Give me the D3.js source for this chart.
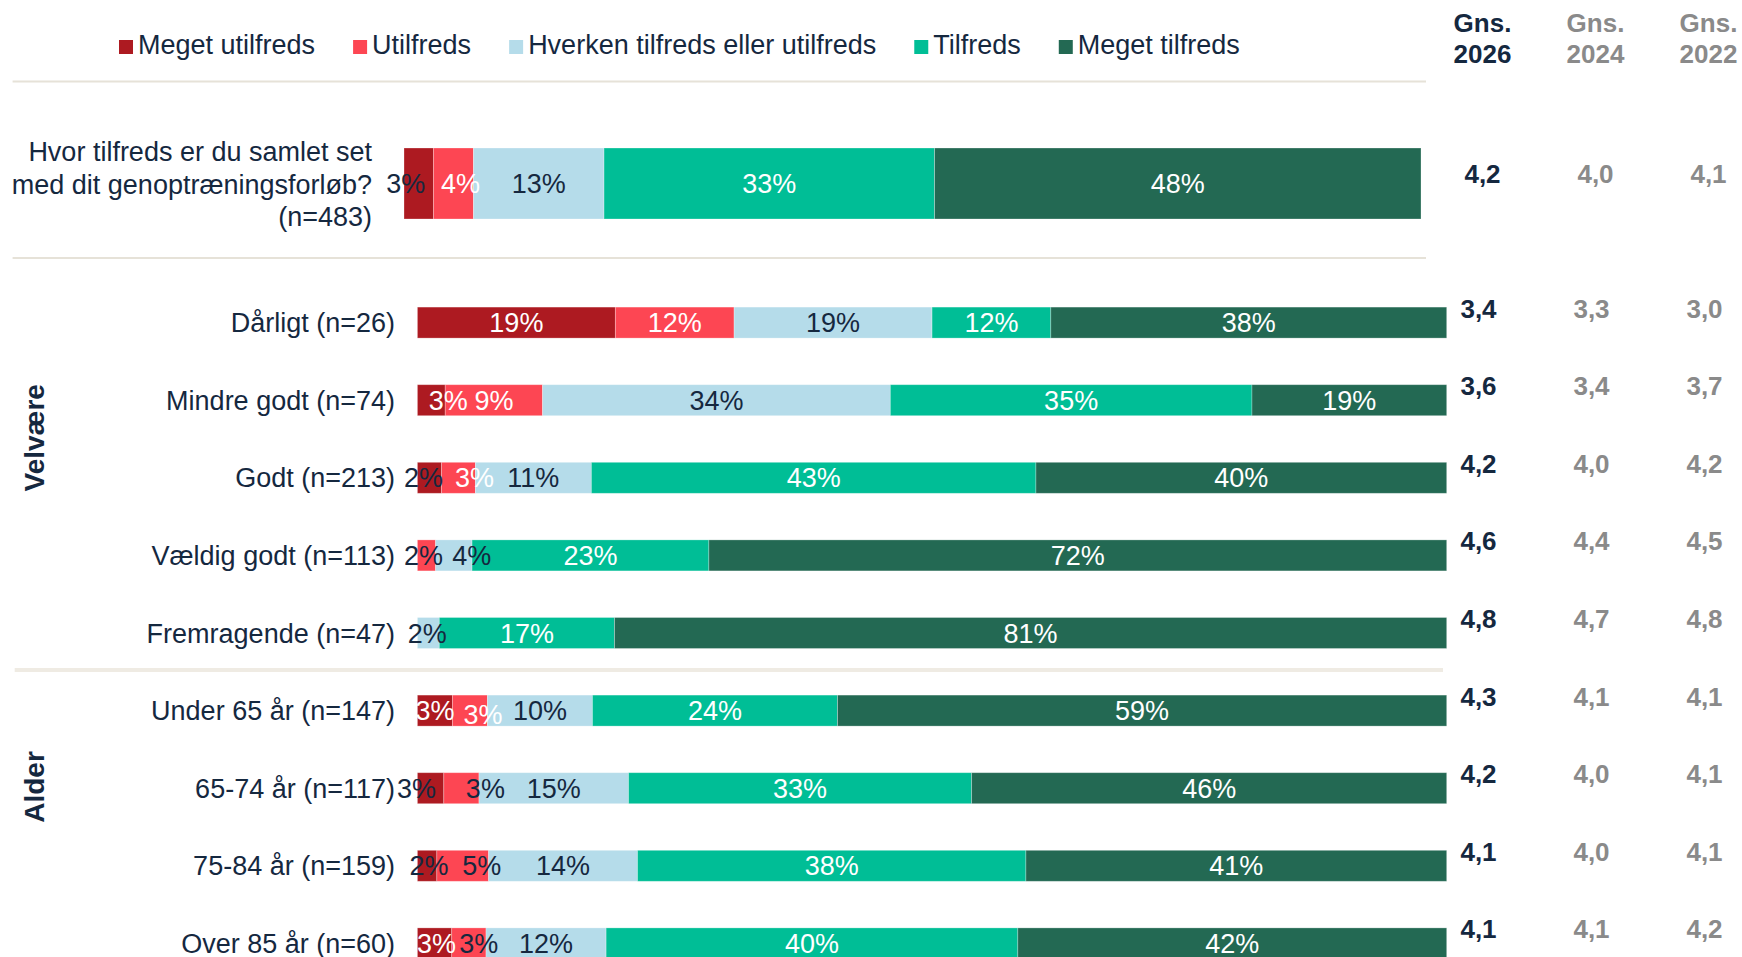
<!DOCTYPE html>
<html>
<head>
<meta charset="utf-8">
<script src="https://cdn.jsdelivr.net/npm/d3@7"></script>
<style>
  body { margin: 0; background: #fff; }
  svg { display: block; font-family: "Liberation Sans", Arial, sans-serif; }
</style>
</head>
<body>
<div id="chart"></div>
<script>

// answer categories (legend order)
var categories = ["Meget utilfreds", "Utilfreds", "Hverken tilfreds eller utilfreds", "Tilfreds", "Meget tilfreds"];
var colors = ["#ad1a21", "#fd4653", "#b5dcea", "#00be96", "#236953"];

// top question
var topLines = ["Hvor tilfreds er du samlet set", "med dit genoptræningsforløb?", "(n=483)"];
var topCounts = [14, 19, 62, 157, 231];
var topN = 483;

// sub groups
var groups = ["Velvære", "Velvære", "Velvære", "Velvære", "Velvære", "Alder", "Alder", "Alder", "Alder"];
var rowNames = ["Dårligt", "Mindre godt", "Godt", "Vældig godt", "Fremragende",
                "Under 65 år", "65-74 år", "75-84 år", "Over 85 år"];
var rowN = [26, 74, 213, 113, 47, 147, 117, 159, 60];
var rowCounts = [
    [5, 3, 5, 3, 10],
    [2, 7, 25, 26, 14],
    [5, 7, 24, 92, 85],
    [0, 2, 4, 26, 81],
    [0, 0, 1, 8, 38],
    [5, 5, 15, 35, 87],
    [3, 4, 17, 39, 54],
    [3, 8, 23, 60, 65],
    [2, 2, 7, 24, 25]
];

// averages (first value = top question)
var years = ["2026", "2024", "2022"];
var mean2026 = [4.2, 3.4, 3.6, 4.2, 4.6, 4.8, 4.3, 4.2, 4.1, 4.1];
var mean2024 = [4.0, 3.3, 3.4, 4.0, 4.4, 4.7, 4.1, 4.0, 4.0, 4.1];
var mean2022 = [4.1, 3.0, 3.7, 4.2, 4.5, 4.8, 4.1, 4.1, 4.1, 4.2];

var navy = "#15283f";
var grey = "#8a8a8a";

// label tweaks for the small segments (row index, -1 = top row)
var labelTweaks = {
    "-1-0": {dx: -13, fill: navy}, "-1-1": {dx: 7},
    "1-0": {dx: 17},
    "2-0": {dx: -6, fill: navy}, "2-1": {dx: 16},
    "3-1": {dx: -3, fill: navy}, "3-2": {dx: 18},
    "4-2": {dx: -1},
    "5-1": {dx: 13, dy: 4},
    "6-0": {dx: -14, fill: navy}, "6-1": {dx: 24, fill: navy},
    "7-0": {dx: 2, fill: navy}, "7-1": {dx: 19, fill: navy},
    "8-0": {dx: 2}, "8-1": {dx: 10, fill: navy}
};
var defaultFill = ["#fff", "#fff", navy, "#fff", "#fff"];

var width = 1742, height = 957;

var svg = d3.select("#chart").append("svg")
    .attr("width", width)
    .attr("height", height);

var comma = d3.formatLocale({decimal: ",", thousands: ".", grouping: [3], currency: ["", ""]}).format(".1f");

function stack(counts, n) {
    var acc = 0;
    return counts.map(function(c, i) {
        var d = {i: i, x0: acc / n * 100, x1: (acc + c) / n * 100, pct: c / n * 100};
        acc += c;
        return d;
    });
}

var xTop = d3.scaleLinear().domain([0, 100]).range([404, 1421]);
var xRow = d3.scaleLinear().domain([0, 100]).range([417.4, 1446.7]);
var yRow = d3.scalePoint().domain(d3.range(rowNames.length)).range([322.6, 322.6 + 8 * 77.6]);
var topY = 183.5, topH = 71, rowH = 31;
var xCol = d3.scalePoint().domain(years).range([1482.5, 1708.5]);

// legend
var lx = 119;
var legend = svg.append("g");
categories.forEach(function(c, i) {
    legend.append("rect")
        .attr("x", lx).attr("y", 40)
        .attr("width", 14).attr("height", 14)
        .attr("fill", colors[i]);
    var t = legend.append("text")
        .attr("x", lx + 19).attr("y", 54)
        .attr("font-size", 27)
        .attr("fill", navy)
        .text(c);
    lx += 19 + t.node().getComputedTextLength() + 38;
});

// column headers
years.forEach(function(y, i) {
    var t = svg.append("text")
        .attr("x", xCol(y))
        .attr("text-anchor", "middle")
        .attr("font-size", 26)
        .attr("font-weight", "bold")
        .attr("fill", i == 0 ? navy : grey);
    t.append("tspan").attr("x", xCol(y)).attr("y", 31.7).text("Gns.");
    t.append("tspan").attr("x", xCol(y)).attr("y", 63.3).text(y);
});

// separators
var seps = [[12.6, 1426, 81.5, 2, "#e6e2d8"], [12.6, 1426, 258, 2, "#e6e2d8"], [14.7, 1443, 670, 4, "#efebe3"]];
svg.selectAll(".sep").data(seps).enter().append("line")
    .attr("x1", function(d) { return d[0]; })
    .attr("x2", function(d) { return d[1]; })
    .attr("y1", function(d) { return d[2]; })
    .attr("y2", function(d) { return d[2]; })
    .attr("stroke-width", function(d) { return d[3]; })
    .attr("stroke", function(d) { return d[4]; });

function drawBar(segs, x, cy, h, rowIdx) {
    var g = svg.append("g");
    g.selectAll("rect").data(segs.filter(function(d) { return d.pct > 0; }))
        .enter().append("rect")
        .attr("x", function(d) { return x(d.x0); })
        .attr("y", cy - h / 2)
        .attr("width", function(d) { return x(d.x1) - x(d.x0); })
        .attr("height", h)
        .attr("fill", function(d) { return colors[d.i]; })
        .attr("stroke", "#fff")
        .attr("stroke-opacity", 0.35)
        .attr("stroke-width", 0.8);

    g.selectAll("text").data(segs.filter(function(d) { return d.pct > 0; }))
        .enter().append("text")
        .attr("x", function(d) {
            var tw = labelTweaks[rowIdx + "-" + d.i] || {};
            return (x(d.x0) + x(d.x1)) / 2 + (tw.dx || 0);
        })
        .attr("y", function(d) {
            var tw = labelTweaks[rowIdx + "-" + d.i] || {};
            return cy + 9.5 + (tw.dy || 0);
        })
        .attr("text-anchor", "middle")
        .attr("font-size", 27)
        .attr("fill", function(d) {
            var tw = labelTweaks[rowIdx + "-" + d.i] || {};
            return tw.fill || defaultFill[d.i];
        })
        .text(function(d) { return Math.round(d.pct) + "%"; });
}

// top question
drawBar(stack(topCounts, topN), xTop, topY, topH, -1);

var topLabel = svg.append("text")
    .attr("text-anchor", "end")
    .attr("font-size", 27)
    .attr("fill", navy);
topLines.forEach(function(l, i) {
    topLabel.append("tspan").attr("x", 372).attr("y", 161 + i * 32.5).text(l);
});

// rows
rowNames.forEach(function(name, r) {
    var cy = yRow(r);
    drawBar(stack(rowCounts[r], rowN[r]), xRow, cy, rowH, r);
    svg.append("text")
        .attr("x", 395)
        .attr("y", cy + 9.5)
        .attr("text-anchor", "end")
        .attr("font-size", 27)
        .attr("fill", navy)
        .text(name + " (n=" + rowN[r] + ")");
});

// group titles
var groupNames = Array.from(new Set(groups));
groupNames.forEach(function(gname) {
    var idx = d3.range(groups.length).filter(function(i) { return groups[i] == gname; });
    var cy = (yRow(idx[0]) + yRow(idx[idx.length - 1])) / 2 - 40;
    svg.append("text")
        .attr("transform", "translate(" + 44 + "," + cy + ") rotate(-90)")
        .attr("text-anchor", "middle")
        .attr("font-size", 28)
        .attr("font-weight", "bold")
        .attr("fill", navy)
        .text(gname);
});

// averages
var means = [mean2026, mean2024, mean2022];
means.forEach(function(arr, c) {
    arr.forEach(function(v, r) {
        var y = r == 0 ? topY - 1 : yRow(r - 1) - 5;
        svg.append("text")
            .attr("x", xCol(years[c]) - (r == 0 ? 0 : 4))
            .attr("y", y)
            .attr("text-anchor", "middle")
            .attr("font-size", 26)
            .attr("font-weight", "bold")
            .attr("fill", c == 0 ? navy : grey)
            .text(comma(v));
    });
});

</script>
</body>
</html>
